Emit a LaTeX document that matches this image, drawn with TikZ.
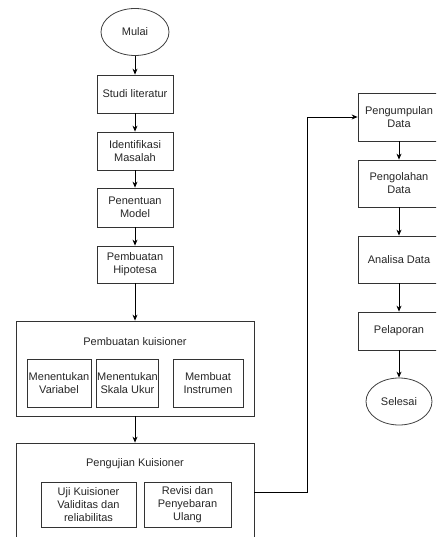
\documentclass[tikz,border=0pt]{standalone}
\usepackage{fontspec}
\setmainfont{Liberation Sans}
\usetikzlibrary{shapes.geometric,arrows.meta}
\begin{document}
\begin{tikzpicture}[x=1pt,y=-1pt,
  every node/.style={font=\fontsize{11}{13}\selectfont, text=black!85, align=center, inner sep=1pt},
  box/.style={draw=black!80, line width=0.8pt, rectangle},
  oval/.style={draw=black!75, line width=0.8pt, ellipse},
  arr/.style={draw=black, line width=0.8pt, -{Stealth[length=6pt,width=5pt]}},
  ln/.style={draw=black!80, line width=0.8pt}]
\useasboundingbox (0,0) rectangle (436,537);
\clip (0,0) rectangle (436,537);
% left column
\node[oval, minimum width=68pt, minimum height=47pt] (mulai) at (135,32) {Mulai};
\node[box, minimum width=76pt, minimum height=38pt] (s1) at (135,94) {Studi literatur};
\node[box, minimum width=76pt, minimum height=38pt] (s2) at (135,151) {Identifikasi\\Masalah};
\node[box, minimum width=76pt, minimum height=39pt] (s3) at (135,207.5) {Penentuan\\Model};
\node[box, minimum width=76pt, minimum height=37pt] (s4) at (135,264.5) {Pembuatan\\Hipotesa};
% Pembuatan kuisioner
\node[box, minimum width=238pt, minimum height=95pt] (k) at (135,368.5) {};
\node (kt) at (135,342) {Pembuatan kuisioner};
\node[box, minimum width=64pt, minimum height=48pt] (k1) at (59,383) {Menentukan\\Variabel};
\node[box, minimum width=61pt, minimum height=48pt] (k2) at (127.5,383) {Menentukan\\Skala Ukur};
\node[box, minimum width=70pt, minimum height=48pt] (k3) at (208,383) {Membuat\\Instrumen};
% Pengujian Kuisioner
\node[box, minimum width=238pt, minimum height=98pt] (p) at (135,492) {};
\node (pt) at (135,464) {Pengujian Kuisioner};
\node[box, minimum width=95pt, minimum height=45pt] (p1) at (88.5,504.5) {Uji Kuisioner\\Validitas dan\\reliabilitas};
\node[box, minimum width=87pt, minimum height=45pt] (p2) at (187.5,504.5) {Revisi dan\\Penyebaran\\Ulang};
% right column
\node[box, minimum width=82pt, minimum height=48pt] (r1) at (399,117) {Pengumpulan\\Data};
\node[box, minimum width=82pt, minimum height=47pt] (r2) at (399,183.5) {Pengolahan\\Data};
\node[box, minimum width=82pt, minimum height=47pt] (r3) at (399,259.5) {Analisa Data};
\node[box, minimum width=82pt, minimum height=38pt] (r4) at (399,331) {Pelaporan};
\node[oval, minimum width=66pt, minimum height=47pt] (selesai) at (399,401.5) {Selesai};
% connectors
\draw[arr] (mulai) -- (s1);
\draw[arr] (s1) -- (s2);
\draw[arr] (s2) -- (s3);
\draw[arr] (s3) -- (s4);
\draw[arr] (s4) -- (k);
\draw[arr] (k) -- (p);
\draw[arr] (p.east) -| (307,117) -- (r1.west);
\draw[arr] (r1) -- (r2);
\draw[arr] (r2) -- (r3);
\draw[arr] (r3) -- (r4);
\draw[arr] (r4) -- (selesai);
\end{tikzpicture}
\end{document}
